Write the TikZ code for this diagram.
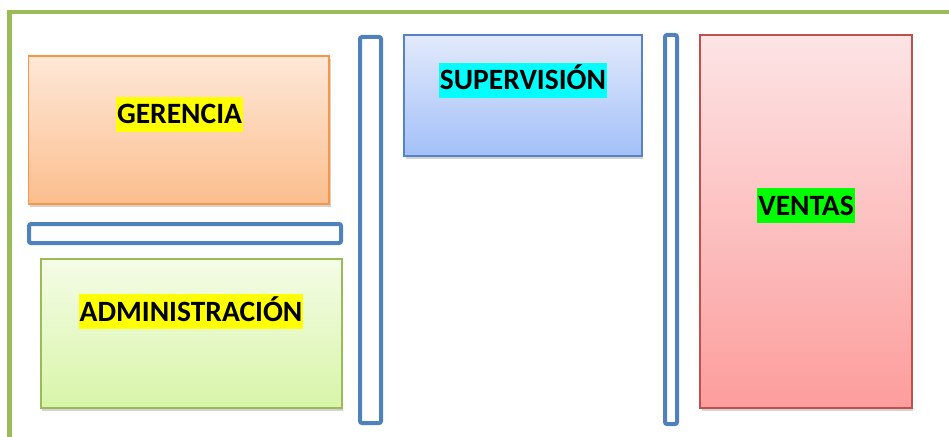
\documentclass[tikz,border=0pt]{standalone}
\usepackage{fontspec}
\setmainfont{Carlito}
\usetikzlibrary{shadows}
\definecolor{frameg}{HTML}{9BBB59}
\definecolor{barb}{HTML}{4F81BD}
\definecolor{gerB}{HTML}{F79646}\definecolor{gerT}{HTML}{FEE8D8}\definecolor{gerD}{HTML}{FBBE8E}
\definecolor{admB}{HTML}{9BBB59}\definecolor{admT}{HTML}{F4FCE6}\definecolor{admD}{HTML}{D8F5A8}
\definecolor{supB}{HTML}{5583C3}\definecolor{supT}{HTML}{E2EAFB}\definecolor{supD}{HTML}{A3C0F8}
\definecolor{venB}{HTML}{C0504D}\definecolor{venT}{HTML}{FDE4E5}\definecolor{venD}{HTML}{FC9D9C}
\definecolor{hlY}{HTML}{FFFF00}\definecolor{hlC}{HTML}{00FFFF}\definecolor{hlG}{HTML}{00FF00}
\tikzset{
  dept/.style={rectangle, line width=1.8pt, inner sep=0pt,
    drop shadow={shadow xshift=1.5pt, shadow yshift=-3pt, opacity=0.35}},
  bar/.style={rectangle, draw=barb, fill=white, line width=4pt, rounded corners=2pt, inner sep=0pt},
  hl/.style={inner sep=0pt, inner xsep=1pt, text height=27pt, text depth=8pt,
    font=\fontsize{29.5}{35}\selectfont\bfseries}
}
\begin{document}
\begin{tikzpicture}[x=1pt,y=-1pt]
\useasboundingbox (0,0) rectangle (949,436);
\clip (0,0) rectangle (949,436);
\draw[frameg, line width=4.5pt] (9.5,12) rectangle (1000,500);
% departments
\node[dept, draw=gerB, top color=gerT, bottom color=gerD, minimum width=300.5pt, minimum height=148pt] (ger) at (178.75,130) {};
\node[dept, draw=admB, top color=admT, bottom color=admD, minimum width=301pt, minimum height=148.7pt] (adm) at (191.2,333.4) {};
\node[dept, draw=supB, top color=supT, bottom color=supD, minimum width=237.7pt, minimum height=121pt] (sup) at (522.9,95.5) {};
\node[dept, draw=venB, top color=venT, bottom color=venD, minimum width=211.7pt, minimum height=372.7pt] (ven) at (805.9,221.4) {};
% bars
\node[bar, minimum width=312pt, minimum height=19pt] (hbar) at (185,233.5) {};
\node[bar, minimum width=21pt, minimum height=386pt] (vbarA) at (370.5,230) {};
\node[bar, minimum width=12pt, minimum height=389pt] (vbarB) at (671,229.5) {};
% labels
\node[hl, fill=hlY] (tger) at (179.5,114) {GERENCIA};
\node[hl, fill=hlY] (tadm) at (191,311.5) {ADMINISTRACIÓN};
\node[hl, fill=hlC] (tsup) at (523,80) {SUPERVISIÓN};
\node[hl, fill=hlG] (tven) at (806,205.5) {VENTAS};
\end{tikzpicture}
\end{document}
